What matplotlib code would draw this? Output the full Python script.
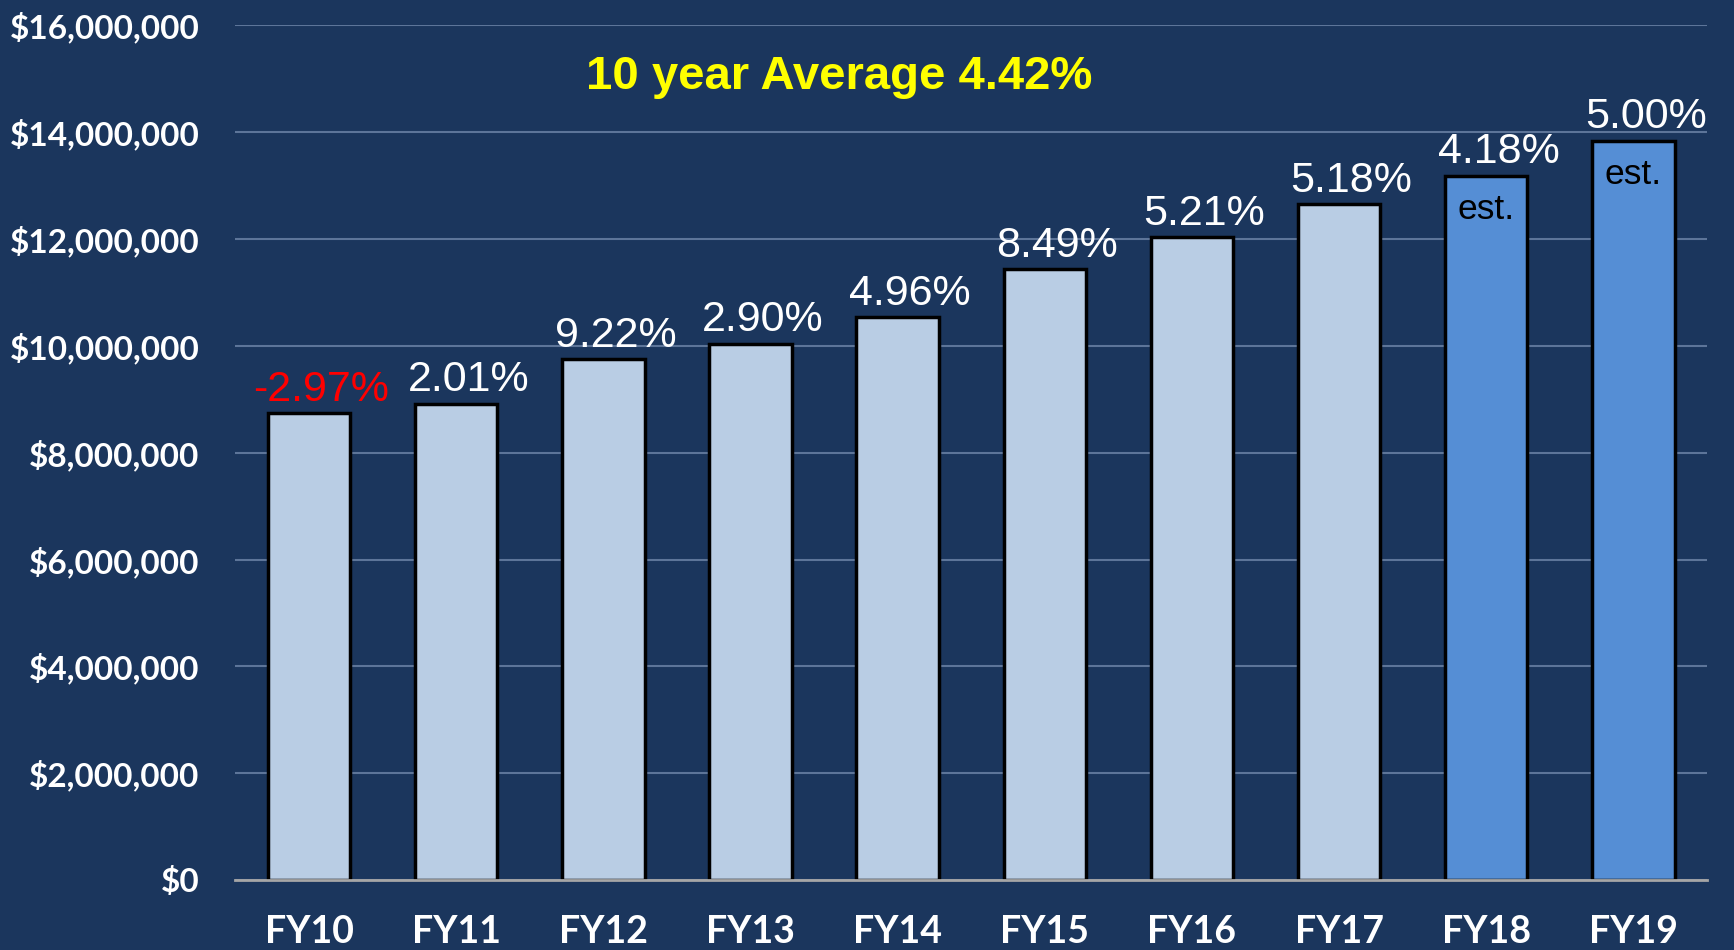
import matplotlib.pyplot as plt
from matplotlib.ticker import FuncFormatter

years = ["FY10", "FY11", "FY12", "FY13", "FY14", "FY15", "FY16", "FY17", "FY18", "FY19"]
revenue = [8735000, 8920000, 9750000, 10040000, 10540000, 11430000, 12030000, 12650000, 13180000, 13840000]
growth = ["-2.97%", "2.01%", "9.22%", "2.90%", "4.96%", "8.49%", "5.21%", "5.18%", "4.18%", "5.00%"]
estimated = [False] * 8 + [True, True]
yticks = [0, 2e6, 4e6, 6e6, 8e6, 10e6, 12e6, 14e6, 16e6]

bg = "#1b365d"
light = "#b9cde4"
dark = "#558ed5"

fig = plt.figure(figsize=(17.34, 9.5), dpi=100, facecolor=bg)
ax = fig.add_axes([0.1358, 0.0737, 0.8486, 0.8996], facecolor=bg)

x = list(range(len(years)))
colors = [dark if e else light for e in estimated]
bars = ax.bar(x, revenue, width=0.56, color=colors, edgecolor="black", linewidth=2.5, zorder=3)

for i, (b, g) in enumerate(zip(bars, growth)):
    col = "#ff0000" if g.startswith("-") else "white"
    ax.annotate(g, (b.get_x() + b.get_width() / 2, b.get_height()),
                xytext=(9, 9), textcoords="offset points", ha="center", va="baseline",
                fontsize=31, color=col, family="Liberation Sans")
    if estimated[i]:
        ax.annotate("est.", (b.get_x() + b.get_width() / 2, b.get_height()),
                    xytext=(0, -31), textcoords="offset points", ha="center", va="baseline",
                    fontsize=25.5, color="black", family="Liberation Sans")

# title sits left of centre in the original
ax.text(0.41, 0.94, "10 year Average 4.42%", transform=ax.transAxes, ha="center", va="center",
        fontsize=34, color="#ffff00", fontweight="bold", family="Liberation Sans")

ax.set_xlim(-0.5, 9.5)
ax.set_ylim(0, 16e6)
ax.set_yticks(yticks)
ax.yaxis.set_major_formatter(FuncFormatter(lambda v, p: "${:,.0f}".format(v)))
ax.set_xticks(x)
ax.set_xticklabels(years)
ax.grid(axis="y", color="#5d7599", linewidth=1.5, zorder=0)
ax.set_axisbelow(True)

for s in ["top", "right", "left"]:
    ax.spines[s].set_visible(False)
ax.spines["bottom"].set_color("#a6a6a6")
ax.spines["bottom"].set_linewidth(2)
ax.spines["bottom"].set_zorder(4)

ax.tick_params(axis="y", length=0, pad=26, labelsize=24, labelcolor="white")
ax.tick_params(axis="x", length=0, pad=25, labelsize=27, labelcolor="white")
for lab in ax.get_yticklabels() + ax.get_xticklabels():
    lab.set_family("Lato")
    lab.set_fontweight("bold")

fig.savefig("out.png", dpi=100, facecolor=bg)
